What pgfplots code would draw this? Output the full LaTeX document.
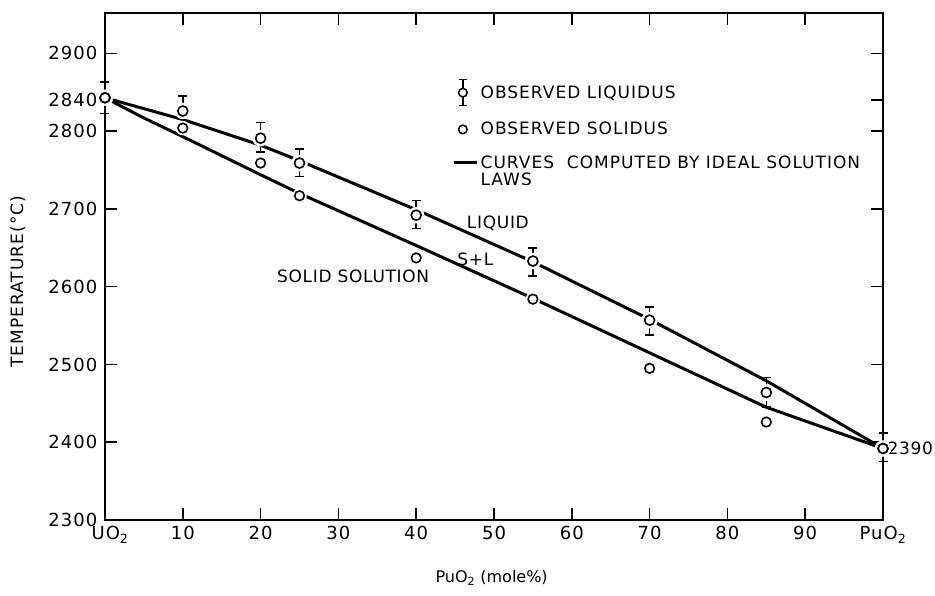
\documentclass[border=0pt]{standalone}
\usepackage{fontspec}
\setmainfont{DejaVu Sans}
\newfontfamily\wideA{DejaVu Sans}[LetterSpace=6]
\newfontfamily\wideB{DejaVu Sans}[LetterSpace=4]
\usepackage{pgfplots}
\pgfplotsset{compat=1.18}

\newcommand{\lab}{\wideA\fontsize{18}{21}\selectfont}
\newcommand{\leg}{\wideA\fontsize{17}{20}\selectfont}
\newcommand{\note}{\wideB\fontsize{17}{20}\selectfont}

\pgfplotstableread{
x    y     ep  em
0    2843  20  20
10   2826  19  18
20   2791  20  18
25   2759  18  17
40   2692  19  17
55   2633  17  19
70   2557  17  19
85   2464  19  19
100  2392  20  17
}\liquidus

\pgfplotstableread{
x    y
0    2843
10   2804
20   2759
25   2717
40   2637
55   2584
70   2495
85   2426
100  2392
}\solidus

\pgfplotstableread{
x    y
0    2843
10   2815
20   2782
25   2762
40   2699
55   2632
70   2558
85   2479
100  2392
}\liqcurve

\pgfplotstableread{
x    y
0    2843
5    2817
10   2793
20   2744
25   2720
40   2653
55   2585
70   2515
85   2445
100  2392
}\solcurve

\begin{document}
\begin{tikzpicture}
\useasboundingbox (-105pt,-75pt) rectangle (830pt,520pt);
\begin{axis}[
  at={(0,0)}, anchor=south west,
  scale only axis,
  width=778pt, height=507pt,
  xmin=0, xmax=100, ymin=2300, ymax=2952,
  clip=false,
  axis line style={line width=1.8pt},
  tick align=inside,
  major tick length=12pt,
  tick style={line width=1.5pt, black},
  xtick={0,10,...,100},
  xticklabels={\hspace*{10pt}UO\textsubscript{2},10,20,30,40,50,60,70,80,90,PuO\textsubscript{2}},
  ytick={2300,2400,2500,2600,2700,2800,2840,2900},
  /pgf/number format/assume math mode=true,
  /pgf/number format/1000 sep={},
  tick label style={font=\lab},
  xticklabel style={yshift=-3pt},
  yticklabel style={xshift=-4pt},
  xlabel={PuO\textsubscript{2} (mole\%)},
  xlabel style={font=\fontsize{16}{19}\selectfont, at={(axis description cs:0.497,-0.114)}, anchor=center},
  ylabel={TEMPERATURE(°C)},
  ylabel style={font=\wideA\fontsize{17}{20}\selectfont, at={(axis description cs:-0.112,0.47)}, anchor=center},
  legend style={at={(axis cs:44.3,2870)}, anchor=north west, draw=none, fill=none,
    font=\leg, row sep=14pt, cells={anchor=west}},
]
% computed curves
\addplot[forget plot, black, line width=3pt] table[x=x,y=y] {\liqcurve};
\addplot[forget plot, black, line width=3pt] table[x=x,y=y] {\solcurve};
% white halos that break the curves around the points
\addplot[forget plot, white, only marks, mark=*, mark size=8pt] table[x=x,y=y] {\liquidus};
\addplot[forget plot, white, only marks, mark=*, mark size=7pt] table[x=x,y=y] {\solidus};
% liquidus error bars
\addplot[forget plot, black, only marks, mark=none,
  error bars/.cd, y dir=both, y explicit,
  error bar style={line width=1.5pt},
  error mark options={rotate=90, mark size=4.5pt, line width=1.5pt}]
  table[x=x, y=y, y error plus=ep, y error minus=em] {\liquidus};
% observed points
\addplot[forget plot, only marks, mark=*, mark size=5pt, mark options={draw=black, fill=white, line width=1.6pt}] table[x=x,y=y] {\liquidus};
\addplot[forget plot, only marks, mark=*, mark size=4.8pt, mark options={draw=black, fill=white, line width=1.6pt}] table[x=x,y=y] {\solidus};

\addlegendimage{legend image code/.code={
  \draw[line width=1.4pt] (0.3cm,-13pt) -- (0.3cm,13pt);
  \draw[line width=1.4pt] (0.3cm-4pt,13pt) -- (0.3cm+4pt,13pt);
  \draw[line width=1.4pt] (0.3cm-4pt,-13pt) -- (0.3cm+4pt,-13pt);
  \draw[line width=1.5pt, fill=white] (0.3cm,0) circle (4.3pt);}}
\addlegendentry{OBSERVED LIQUIDUS}
\addlegendimage{legend image code/.code={
  \draw[line width=1.5pt, fill=white] (0.3cm,0) circle (4.3pt);}}
\addlegendentry{OBSERVED SOLIDUS}
\addlegendimage{legend image code/.code={
  \path[draw=none, fill=none] (0cm,-10pt) rectangle (0.8cm,10pt);
  \draw[line width=3pt] (0cm,0pt) -- (0.8cm,0pt);}}
\addlegendentry{\begin{tabular}[t]{@{}l@{}}CURVES\ \ COMPUTED BY IDEAL SOLUTION\\[-3pt]LAWS\end{tabular}}

\node[font=\note] at (axis cs:50.5,2682) {LIQUID};
\node[font=\note] at (axis cs:47.6,2635) {S+L};
\node[font=\note] at (axis cs:31.9,2614) {SOLID SOLUTION};
\node[font=\note, anchor=west, inner sep=2pt] at (axis cs:100.3,2392) {2390};
\end{axis}
\end{tikzpicture}
\end{document}
